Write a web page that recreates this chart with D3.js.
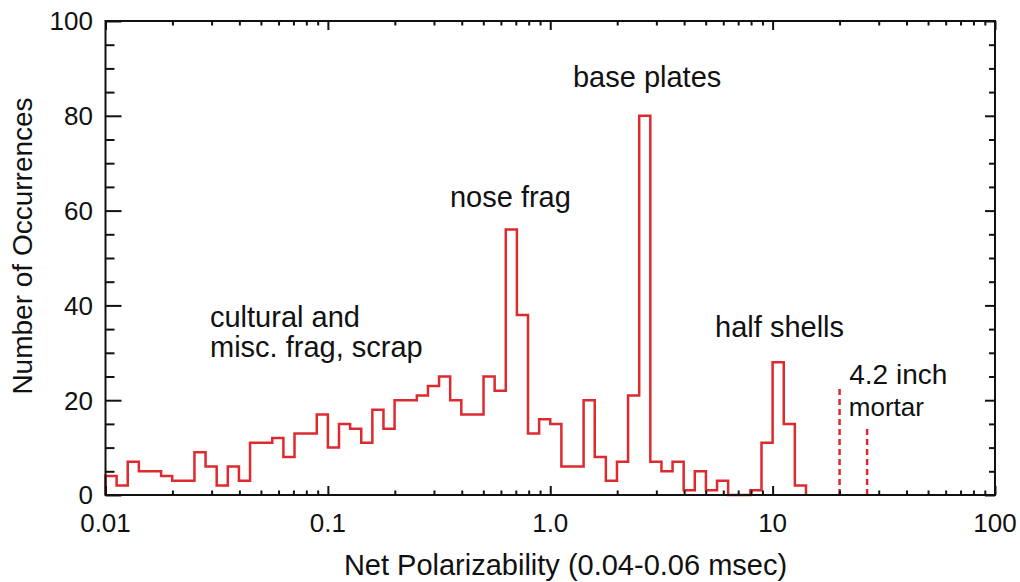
<!DOCTYPE html>
<html>
<head>
<meta charset="utf-8">
<script src="https://cdn.jsdelivr.net/npm/d3@7"></script>
<style>
  body { margin: 0; background: #fff; }
  text { font-family: "Liberation Sans", Arial, sans-serif; fill: #111; }
</style>
</head>
<body>
<div id="container"></div>
<script>
// histogram counts, 20 log bins per decade starting at 0.01
var binStart = 0.01;
var binsPerDecade = 20;
var counts = [4, 2, 7, 5, 5, 4, 3, 3, 9, 6, 2, 6, 3, 11, 11, 12, 8, 13, 13, 17,
              10, 15, 14, 11, 18, 14, 20, 20, 21, 23, 25, 20, 17, 17, 25, 22, 56, 38, 13, 16,
              15, 6, 6, 20, 8, 3, 7, 21, 80, 7, 5, 7, 1, 5, 1, 3, 0, 0, 1, 11,
              28, 15, 2];

// 4.2 inch mortar reference lines [polarizability, height]
var mortarLines = [[20, 23], [26.6, 14.6]];

var xTickValues = [0.01, 0.1, 1, 10, 100];
var xTickLabels = ["0.01", "0.1", "1.0", "10", "100"];
var yTickValues = [0, 20, 40, 60, 80, 100];

var labels = [
    {text: "base plates", x: 1.265, y: 86, size: 29},
    {text: "nose frag", x: 0.354, y: 60.8, size: 29},
    {text: "cultural and", x: 0.0295, y: 35.5, size: 29},
    {text: "misc. frag, scrap", x: 0.0295, y: 29.2, size: 29},
    {text: "half shells", x: 5.51, y: 33.4, size: 29},
    {text: "4.2 inch", x: 22.1, y: 23.4, size: 28},
    {text: "mortar", x: 22.0, y: 16.7, size: 26}
];

var createChart = function () {
    var width = 1020, height = 582;
    var left = 105.5, right = 995, top = 21, bottom = 495;

    var svg = d3.select("#container")
        .append("svg")
        .attr("width", width)
        .attr("height", height);

    var x = d3.scaleLog().domain([0.01, 100]).range([left, right]);
    var y = d3.scaleLinear().domain([0, 100]).range([bottom, top]);

    var edge = function (k) { return binStart * Math.pow(10, k / binsPerDecade); };

    // step outline
    var pts = [[edge(0), 0]];
    counts.forEach(function (c, k) {
        pts.push([edge(k), c]);
        pts.push([edge(k + 1), c]);
    });
    pts.push([edge(counts.length), 0]);

    var line = d3.line()
        .x(function (d) { return x(d[0]); })
        .y(function (d) { return y(d[1]); });

    svg.append("path")
        .attr("d", line(pts))
        .attr("fill", "none")
        .attr("stroke", "#dd2a2e")
        .attr("stroke-width", 2.5)
        .attr("stroke-linejoin", "miter");

    svg.selectAll(".mortar")
        .data(mortarLines)
        .enter().append("line")
        .attr("x1", function (d) { return x(d[0]); })
        .attr("x2", function (d) { return x(d[0]); })
        .attr("y1", y(0))
        .attr("y2", function (d) { return y(d[1]); })
        .attr("stroke", "#dd2a2e")
        .attr("stroke-width", 2.5)
        .attr("stroke-dasharray", "6,4");

    // axes, ticks inward on all four sides
    var xMinor = [];
    for (var e = -2; e < 2; e++) {
        for (var m = 2; m <= 9; m++) xMinor.push(m * Math.pow(10, e));
    }
    var yMinor = d3.range(0, 101, 5).filter(function (v) { return v % 20 !== 0; });

    var axisStyle = function (g) {
        g.select(".domain").remove();
        g.selectAll("line").attr("stroke", "#111").attr("stroke-width", 2);
        g.selectAll("text").remove();
    };

    svg.append("g").attr("transform", "translate(0," + bottom + ")")
        .call(d3.axisTop(x).tickValues(xTickValues).tickSize(9)).call(axisStyle);
    svg.append("g").attr("transform", "translate(0," + bottom + ")")
        .call(d3.axisTop(x).tickValues(xMinor).tickSize(4.5)).call(axisStyle);
    svg.append("g").attr("transform", "translate(0," + top + ")")
        .call(d3.axisBottom(x).tickValues(xTickValues).tickSize(9)).call(axisStyle);
    svg.append("g").attr("transform", "translate(0," + top + ")")
        .call(d3.axisBottom(x).tickValues(xMinor).tickSize(4.5)).call(axisStyle);

    svg.append("g").attr("transform", "translate(" + left + ",0)")
        .call(d3.axisRight(y).tickValues(yTickValues).tickSize(16)).call(axisStyle);
    svg.append("g").attr("transform", "translate(" + left + ",0)")
        .call(d3.axisRight(y).tickValues(yMinor).tickSize(9)).call(axisStyle);
    svg.append("g").attr("transform", "translate(" + right + ",0)")
        .call(d3.axisLeft(y).tickValues(yTickValues).tickSize(10)).call(axisStyle);
    svg.append("g").attr("transform", "translate(" + right + ",0)")
        .call(d3.axisLeft(y).tickValues(yMinor).tickSize(6)).call(axisStyle);

    svg.append("rect")
        .attr("x", left)
        .attr("y", top)
        .attr("width", right - left)
        .attr("height", bottom - top)
        .attr("fill", "none")
        .attr("stroke", "#111")
        .attr("stroke-width", 2);

    // tick labels
    svg.selectAll(".xlab")
        .data(xTickValues)
        .enter().append("text")
        .attr("x", function (d) { return x(d); })
        .attr("y", 532)
        .attr("text-anchor", "middle")
        .style("font-size", "26px")
        .text(function (d, i) { return xTickLabels[i]; });

    svg.selectAll(".ylab")
        .data(yTickValues)
        .enter().append("text")
        .attr("x", 93)
        .attr("y", function (d) { return y(d); })
        .attr("dy", "0.36em")
        .attr("text-anchor", "end")
        .style("font-size", "26px")
        .text(function (d) { return d; });

    svg.append("text")
        .attr("x", 565.5)
        .attr("y", 575)
        .attr("text-anchor", "middle")
        .style("font-size", "29px")
        .text("Net Polarizability (0.04-0.06 msec)");

    svg.append("text")
        .attr("transform", "translate(32,246) rotate(-90)")
        .attr("text-anchor", "middle")
        .style("font-size", "28px")
        .text("Number of Occurrences");

    svg.selectAll(".note")
        .data(labels)
        .enter().append("text")
        .attr("x", function (d) { return x(d.x); })
        .attr("y", function (d) { return y(d.y); })
        .style("font-size", function (d) { return d.size + "px"; })
        .text(function (d) { return d.text; });
};

window.onload = createChart;
</script>
</body>
</html>
